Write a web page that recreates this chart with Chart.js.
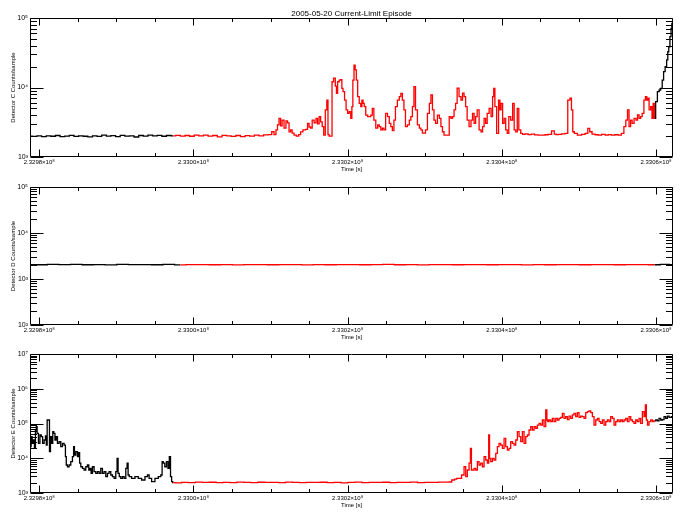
<!DOCTYPE html>
<html><head><meta charset="utf-8">
<script src="https://cdn.jsdelivr.net/npm/chart.js@4.4.1/dist/chart.umd.min.js"></script>
<style>
html,body{margin:0;padding:0;background:#fff;width:684px;height:518px;overflow:hidden}
canvas{position:absolute;left:0}
</style></head><body>
<canvas id="c1" width="684" height="180" style="top:0px;width:684px;height:180px"></canvas>
<canvas id="c2" width="684" height="166" style="top:180px;width:684px;height:166px"></canvas>
<canvas id="c3" width="684" height="172" style="top:346px;width:684px;height:172px"></canvas>
<script>
// Time base (s); all time arrays are kiloseconds after T0
const T0 = 232980000;
const xRange = [-1.2, 82.2];
const redWindow = [17.34, 79.86];
const xTicks = [232980000, 233000000, 233020000, 233040000, 233060000];
const xTickLabels = ['2.3298×10⁸', '2.3300×10⁸', '2.3302×10⁸', '2.3304×10⁸', '2.3306×10⁸'];
const chartTitle = '2005-05-20 Current-Limit Episode';
const xTitle = 'Time [s]';

// Detector C
const yTicksC = [1e3, 1e4, 1e5];
const yLabelsC = ['10³', '10⁴', '10⁵'];
const tC = [-1.2,-0.6,0.0,0.6,1.2,1.8,2.4,3.0,3.6,4.2,4.8,5.4,6.0,6.6,7.2,7.8,8.4,9.0,9.6,10.2,10.8,11.4,12.0,12.6,13.2,13.8,14.4,15.0,15.6,16.2,16.8,17.4,
18.0,18.6,19.2,19.8,20.4,21.0,21.6,22.2,22.8,23.4,24.0,24.6,25.2,25.8,26.4,27.0,27.6,28.2,28.8,29.4,30.0,
30.3,30.6,30.8,31.0,31.2,31.4,31.6,31.9,32.1,32.3,32.5,32.7,32.9,33.2,33.5,33.8,34.0,34.4,34.7,34.9,35.1,35.3,35.5,35.8,36.0,36.2,36.4,36.6,36.8,37.0,37.2,37.4,37.5,37.7,37.9,
38.05,38.3,38.5,38.6,38.8,39.0,39.2,39.3,39.5,39.7,39.9,40.1,40.3,40.5,40.6,40.75,40.9,41.05,41.2,41.4,41.6,41.8,41.9,42.1,42.2,42.5,42.7,42.9,43.1,43.3,43.5,43.8,44.0,44.2,44.4,44.6,44.8,
45.05,45.3,45.5,45.7,45.9,46.1,46.3,46.6,46.8,47.0,47.2,47.4,47.6,47.9,48.1,48.3,48.5,48.7,48.9,49.2,49.4,49.6,49.8,50.0,50.2,50.5,50.7,50.9,51.1,51.3,51.5,51.8,52.0,52.2,52.4,52.6,52.8,
53.05,53.3,53.5,53.7,53.9,54.1,54.3,54.6,54.8,55.0,55.2,55.4,55.6,55.9,56.1,56.3,56.5,56.7,56.9,57.2,57.4,57.6,57.8,58.0,58.2,58.5,58.7,58.9,59.0,59.2,59.45,59.7,59.8,60.0,60.2,60.4,60.6,60.8,
61.0,61.3,61.5,61.7,61.9,62.1,62.3,62.6,62.8,63.2,63.6,64.0,64.5,64.9,65.4,65.8,66.2,66.7,66.9,67.2,67.5,68.0,68.4,68.7,68.96,69.1,69.3,69.5,70.1,70.6,71.0,71.3,71.5,71.9,72.3,72.7,73.2,73.6,
74.0,74.4,74.9,75.3,75.7,75.96,76.2,76.4,76.6,76.8,77.0,77.3,77.5,77.7,77.9,78.1,78.3,78.55,78.7,78.9,79.0,79.2,79.4,79.55,79.7,79.85,80.05,80.3,80.5,80.7,80.9,81.06,81.3,81.45,81.6,81.7,81.9,82.0,82.1,82.2];
const vC = [2000,1980,2020,1960,2010,1990,2040,1970,2000,2050,1980,2020,1990,1950,2010,1980,2060,2000,2030,1970,2050,2000,2020,1940,2040,2000,2060,2010,2050,1990,2040,2020,
2050,2000,2040,1990,2060,2010,2070,2000,2040,1950,2050,2020,1980,2040,1970,2030,2000,2060,2010,2080,2100,
2310,2100,2450,2900,3600,2800,3400,2600,3300,3100,2300,2450,2200,2070,2000,2100,2300,2450,2500,3050,2700,2600,3400,3100,3600,3000,3800,3200,2730,2070,4750,6600,2100,2000,2000,
12100,13600,10500,8250,12100,12800,13000,9700,8700,6600,4750,4250,4490,3600,5300,12800,21000,17900,12800,7400,5900,5300,6600,5900,5300,4000,3800,3800,4000,5000,3400,2600,2900,2730,2450,2600,2450,
4250,3800,3050,2730,2390,3400,5300,6600,7400,8250,6600,4750,2730,2890,3400,3800,5300,10300,4750,2890,2600,2450,2200,2200,2450,4250,5900,7800,4750,3400,3050,4000,3600,2730,2310,2070,2070,
2070,3800,3600,3800,4750,5900,9800,7400,6600,8300,7400,5300,3400,2730,3400,4250,3050,3800,4750,2450,2310,2730,3600,3050,4250,5020,3800,7370,9740,5290,2190,6600,4750,5920,3050,3600,2450,2190,
3800,3400,5920,2450,2310,5020,2450,2190,2120,2150,2100,2130,2080,2070,2070,2090,2120,2370,2140,2100,2120,2150,2190,6600,7000,4750,2310,2190,2070,2120,2190,2590,2310,2140,2090,2070,2110,2070,
2100,2070,2090,2070,2190,2730,3400,4750,2730,3400,3050,3600,3400,4020,3600,3800,4250,6600,7370,6600,7000,4750,5290,3600,5920,3600,6250,8710,9200,9740,12800,16900,19900,24900,32700,38600,53800,71000,83900,93600];

// Detector D
const yTicksD = [1e2, 1e3, 1e4, 1e5];
const yLabelsD = ['10²', '10³', '10⁴', '10⁵'];
const tD = [-1.2,0.3,1.8,3.3,4.8,6.3,7.8,9.3,10.8,12.3,13.8,15.3,16.8,18.3,19.8,21.3,22.8,24.3,25.8,27.3,28.8,30.3,31.8,33.3,34.8,36.3,37.8,39.3,40.8,42.3,43.8,45.3,46.8,48.3,49.8,51.3,52.8,54.3,55.8,57.3,58.8,60.3,61.8,63.3,64.8,66.3,67.8,69.3,70.8,72.3,73.8,75.3,76.8,78.3,79.8,81.3,82.2];
const vD = [2060,2040,2070,2050,2080,2040,2060,2030,2070,2050,2060,2040,2070,2030,2050,2060,2040,2050,2030,2060,2050,2040,2060,2050,2030,2060,2040,2050,2060,2040,2050,2070,2040,2050,2030,2060,2050,2040,2060,2050,2040,2060,2050,2030,2060,2040,2050,2060,2040,2050,2060,2040,2050,2060,2040,2070,2050];

// Detector E
const yTicksE = [1e3, 1e4, 1e5, 1e6, 1e7];
const yLabelsE = ['10³', '10⁴', '10⁵', '10⁶', '10⁷'];
const tE = [-1.12,-0.99,-0.86,-0.69,-0.56,-0.43,-0.34,-0.21,0.0,0.18,0.35,0.52,0.74,0.87,0.96,1.09,1.26,1.39,1.52,1.69,1.82,1.95,2.12,2.25,2.47,2.68,2.90,3.12,3.33,3.46,3.55,3.77,3.98,4.20,4.41,4.50,4.63,4.85,5.06,5.19,5.28,5.50,5.71,5.93,6.14,6.36,6.49,6.66,6.79,7.01,7.22,7.44,7.66,7.87,8.09,8.30,8.52,8.74,8.95,9.17,9.39,9.60,9.82,10.03,10.16,10.29,10.47,10.68,10.90,11.12,11.33,11.46,11.59,11.76,12.20,12.63,13.06,13.49,13.93,14.14,14.36,14.79,15.22,15.66,15.87,16.0,16.17,16.39,16.61,16.78,16.96,17.09,17.25,17.38,
18.0,18.9,19.8,20.7,21.6,22.5,23.4,24.3,25.2,26.1,27.0,27.9,28.8,29.7,30.6,31.5,32.4,33.3,34.2,35.1,36.0,36.9,37.8,38.7,39.6,40.5,41.4,42.3,43.2,44.1,45.0,45.9,46.8,47.7,48.6,49.5,50.4,51.3,52.2,53.0,
53.3,53.7,54.0,54.3,54.56,54.99,55.21,55.42,55.64,55.86,55.99,56.12,56.29,56.5,56.72,56.94,57.15,57.37,57.59,57.80,58.02,58.23,58.36,58.45,58.67,58.88,59.1,59.32,59.53,59.75,59.96,60.18,60.4,60.61,60.83,61.04,61.26,61.48,61.69,61.91,62.13,62.34,62.56,62.77,62.99,63.21,63.42,63.64,63.85,64.07,64.29,64.5,64.72,64.94,65.15,65.37,65.58,65.8,65.89,66.02,66.23,66.45,66.66,66.88,67.1,67.31,67.53,67.74,67.96,68.17,68.39,68.61,68.82,69.04,69.26,69.47,69.69,69.9,70.12,70.34,70.56,70.77,70.99,71.21,71.42,71.64,71.85,72.07,72.29,72.5,72.72,72.93,73.15,73.37,73.58,73.8,74.01,74.23,74.45,74.66,74.88,75.09,75.31,75.53,75.74,75.96,76.18,76.39,76.61,76.83,77.04,77.26,77.47,77.69,77.9,78.12,78.34,78.55,78.68,78.81,78.98,79.2,79.42,79.63,79.85,80.07,80.28,80.5,80.72,80.93,81.15,81.36,81.58,81.79,82.2];
const vE = [21500,41700,26900,33500,19300,65000,81000,52200,26900,46700,41700,26900,33500,44000,24000,126000,126000,15500,41700,26900,58000,52200,33500,41700,26900,30000,21500,26900,24000,11100,6400,5700,6400,8000,11100,21500,12400,15500,11100,14400,7200,5700,5130,4590,5700,6400,4590,5130,3690,5700,4100,3690,4100,3690,5130,3690,4100,2950,3690,4100,3300,2950,2650,4100,9960,3690,2950,2650,2950,2650,5130,7200,3300,2950,2650,2950,2650,2370,2950,3300,2650,2120,2650,2950,3300,8000,7200,5700,8000,5130,11100,2950,2120,1980,
1950,2030,2000,2050,2010,2040,1990,2030,2000,2050,2020,1980,2040,2010,2030,2000,2050,2020,1990,2030,2010,2040,2000,2030,1960,2020,2050,2000,2030,2010,2040,1990,2030,2010,2050,2000,2030,2020,2050,2060,
2070,2370,2500,2650,2650,3300,5700,2950,4590,7200,19300,4590,4590,5130,4590,8000,6400,7200,5700,11100,8900,7200,46700,9960,8000,9960,8900,13900,21500,26900,24000,19300,37500,21500,17300,19300,30000,26900,24000,33500,58000,41700,30000,58000,26900,41700,46700,65000,81000,65000,81000,73000,90000,101000,90000,126000,81000,245000,126000,113000,126000,113000,141000,113000,141000,126000,141000,151000,196000,141000,157000,130000,164000,141000,176000,196000,157000,205000,150000,164000,157000,141000,205000,219000,230000,205000,157000,90000,126000,141000,113000,101000,126000,90000,113000,126000,113000,157000,141000,90000,113000,126000,113000,126000,113000,126000,141000,113000,157000,126000,113000,101000,126000,113000,141000,101000,219000,157000,341000,126000,90000,113000,126000,113000,120000,126000,120000,141000,126000,130000,157000,141000,164000,150000,157000];

const FAM = "'Liberation Sans', 'DejaVu Sans', sans-serif";
Chart.defaults.color = '#000';

const frame = {
  id: 'frame',
  afterDatasetsDraw(chart) {
    const {ctx, chartArea: a, scales: {x, y}} = chart;
    const L = Math.round(a.left) + 0.5, R = Math.round(a.right) - 0.5;
    const T = Math.round(a.top) + 0.5, B = Math.round(a.bottom) - 0.5;
    ctx.save();
    ctx.strokeStyle = '#000';
    ctx.lineWidth = 1;
    ctx.beginPath();
    ctx.rect(L, T, R - L, B - T);
    for (let v = Math.ceil(x.min / 5000) * 5000; v <= x.max; v += 5000) {
      const p = Math.round(x.getPixelForValue(v)) + 0.5;
      const len = (v % 20000 === 0) ? 7 : 3.5;
      ctx.moveTo(p, B); ctx.lineTo(p, B - len);
      ctx.moveTo(p, T); ctx.lineTo(p, T + len);
    }
    const d0 = Math.round(Math.log10(y.min)), d1 = Math.round(Math.log10(y.max));
    for (let d = d0; d <= d1; d++) {
      for (let m = 1; m <= 9; m++) {
        const v = m * Math.pow(10, d);
        if (v > y.max * 1.0001) break;
        const p = Math.round(y.getPixelForValue(v)) + 0.5;
        const len = m === 1 ? 13 : 6.5;
        ctx.moveTo(L, p); ctx.lineTo(L + len, p);
        ctx.moveTo(R, p); ctx.lineTo(R - len, p);
      }
    }
    ctx.stroke();
    ctx.restore();
  }
};

function makePanel(id, t, v, yTicks, yLabels, yTitle, padTop, padBottom, withTitle) {
  const inRed = k => k >= redWindow[0] && k <= redWindow[1];
  const redPts = t.map((k, i) => ({x: T0 + k * 1000, y: inRed(k) ? v[i] : null}));
  // black: everything outside the red window, plus the joining neighbours
  const blackPts = t.map((k, i) => {
    const keep = !inRed(k) || (i > 0 && !inRed(t[i - 1])) || (i < t.length - 1 && !inRed(t[i + 1]));
    return {x: T0 + k * 1000, y: keep ? v[i] : null};
  });
  new Chart(document.getElementById(id), {
    type: 'line',
    data: {datasets: [
      {data: redPts, borderColor: '#ff0000', order: 1},
      {data: blackPts, borderColor: '#000000', order: 2}
    ]},
    options: {
      responsive: false, animation: false, devicePixelRatio: 1,
      layout: {padding: {top: padTop, right: 11, bottom: padBottom, left: 0}},
      elements: {line: {borderWidth: 1.3, stepped: 'middle', tension: 0, fill: false}, point: {radius: 0}},
      plugins: {
        legend: {display: false}, tooltip: {enabled: false},
        title: withTitle ? {display: true, text: chartTitle, fullSize: false, color: '#000',
          font: {family: FAM, size: 8, weight: 'normal', lineHeight: '8px'}, padding: {top: 10, bottom: 0}} : {display: false}
      },
      scales: {
        x: {
          type: 'linear', min: T0 + xRange[0] * 1000, max: T0 + xRange[1] * 1000,
          grid: {display: false, drawTicks: false}, border: {display: false},
          afterBuildTicks: s => { s.ticks = xTicks.map(val => ({value: val})); },
          afterFit: s => { s.height = 16; s.paddingLeft = 0; s.paddingRight = 0; },
          ticks: {autoSkip: false, maxRotation: 0, minRotation: 0, padding: 1, color: '#000',
            font: {family: FAM, size: 6, lineHeight: '8px'},
            callback: (val, i) => xTickLabels[i]},
          title: {display: true, text: xTitle, color: '#000', font: {family: FAM, size: 6, lineHeight: '8px'}, padding: 0}
        },
        y: {
          type: 'logarithmic', min: yTicks[0], max: yTicks[yTicks.length - 1],
          grid: {display: false, drawTicks: false}, border: {display: false},
          afterBuildTicks: s => { s.ticks = yTicks.map(val => ({value: val})); },
          afterFit: s => { s.width = 30; s.paddingTop = 0; s.paddingBottom = 0; },
          ticks: {autoSkip: false, padding: 2, color: '#000', font: {family: FAM, size: 7, lineHeight: '8px'},
            callback: (val, i) => yLabels[i]},
          title: {display: true, text: yTitle, color: '#000', font: {family: FAM, size: 6, lineHeight: '8px'}, padding: {top: 9, bottom: 0}}
        }
      }
    },
    plugins: [frame]
  });
}

makePanel('c1', tC, vC, yTicksC, yLabelsC, 'Detector C Counts/sample', 0, 7, true);
makePanel('c2', tD, vD, yTicksD, yLabelsD, 'Detector D Counts/sample', 7, 5, false);
makePanel('c3', tE, vE, yTicksE, yLabelsE, 'Detector E Counts/sample', 8, 9, false);
</script>
</body></html>
